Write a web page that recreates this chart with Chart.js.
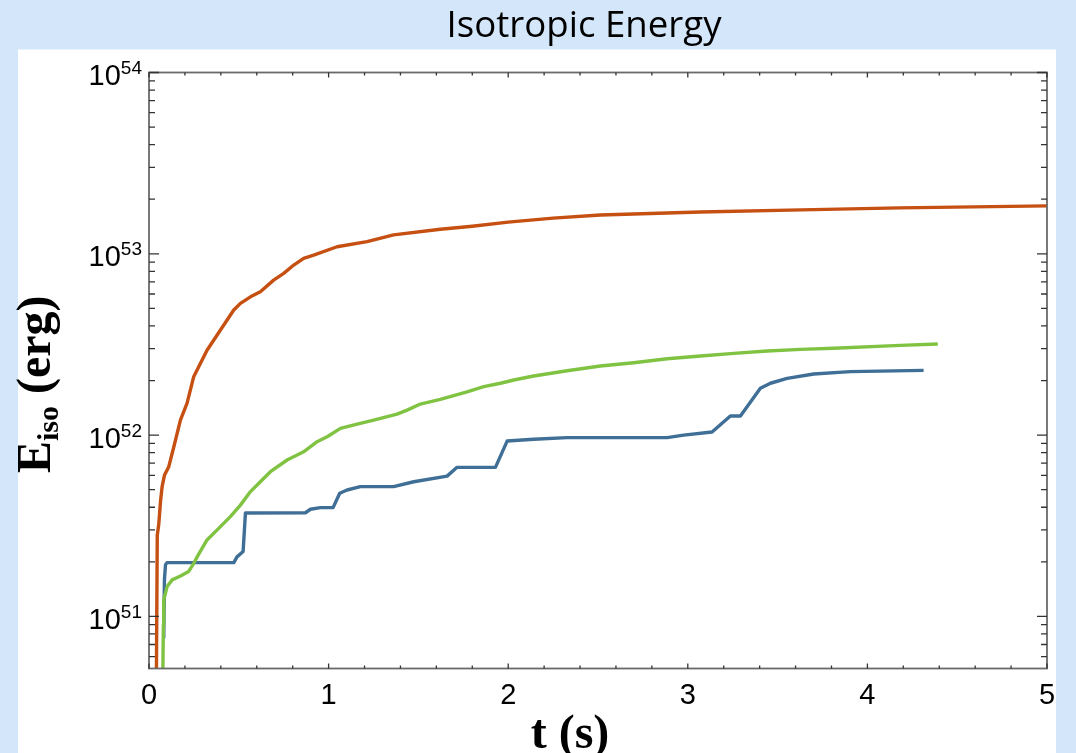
<!DOCTYPE html>
<html>
<head>
<meta charset="utf-8">
<script src="https://cdn.jsdelivr.net/npm/chart.js@4/dist/chart.umd.min.js"></script>
<style>
  html, body { margin: 0; padding: 0; background: #d4e7fa; }
  #wrap { width: 1076px; height: 753px; position: relative; }
</style>
</head>
<body>
<div id="wrap"><canvas id="c" width="1076" height="753"></canvas></div>
<script>
// ---- Data (t in s, E_iso in erg) ----
const chartTitle = "Isotropic Energy";
const xTickValues = [0, 1, 2, 3, 4, 5];
const yTickExponents = [51, 52, 53, 54];

const tOrange = [0.040, 0.046, 0.054, 0.064, 0.073, 0.086, 0.110, 0.138, 0.175, 0.212, 0.249, 0.323, 0.398, 0.472, 0.509, 0.565, 0.620, 0.694, 0.750, 0.806, 0.861, 0.917, 1.047, 1.214, 1.362, 1.622, 1.800, 2.000, 2.250, 2.513, 3.070, 3.630, 4.180, 5.000];
const eOrange = [3.0e50, 2.8e51, 3.2e51, 4.3e51, 5.2e51, 6.0e51, 6.7e51, 8.6e51, 1.21e52, 1.50e52, 2.10e52, 2.94e52, 3.80e52, 4.90e52, 5.33e52, 5.79e52, 6.18e52, 7.16e52, 7.80e52, 8.67e52, 9.44e52, 9.84e52, 1.094e53, 1.167e53, 1.271e53, 1.365e53, 1.42e53, 1.496e53, 1.574e53, 1.637e53, 1.702e53, 1.746e53, 1.791e53, 1.837e53];

const tGreen = [0.075, 0.080, 0.082, 0.101, 0.129, 0.175, 0.221, 0.249, 0.268, 0.323, 0.388, 0.453, 0.509, 0.565, 0.620, 0.676, 0.769, 0.861, 0.936, 0.992, 1.066, 1.159, 1.251, 1.381, 1.437, 1.511, 1.622, 1.771, 1.864, 1.957, 2.031, 2.142, 2.328, 2.513, 2.699, 2.885, 3.071, 3.256, 3.442, 3.628, 3.812, 4.184, 4.392];
const eGreen = [3.0e50, 9.0e50, 1.23e51, 1.46e51, 1.59e51, 1.67e51, 1.77e51, 1.96e51, 2.13e51, 2.64e51, 3.06e51, 3.55e51, 4.11e51, 4.88e51, 5.53e51, 6.28e51, 7.29e51, 8.09e51, 9.20e51, 9.79e51, 1.089e52, 1.151e52, 1.211e52, 1.306e52, 1.374e52, 1.483e52, 1.574e52, 1.734e52, 1.849e52, 1.932e52, 2.014e52, 2.118e52, 2.265e52, 2.404e52, 2.506e52, 2.636e52, 2.729e52, 2.825e52, 2.911e52, 2.972e52, 3.013e52, 3.126e52, 3.18e52];

const tBlue = [0.082, 0.086, 0.092, 0.100, 0.472, 0.490, 0.524, 0.537, 0.871, 0.899, 0.954, 1.025, 1.062, 1.103, 1.177, 1.362, 1.474, 1.660, 1.715, 1.929, 1.994, 2.142, 2.328, 2.885, 2.977, 3.135, 3.237, 3.293, 3.404, 3.460, 3.553, 3.701, 3.905, 4.313];
const eBlue = [7.57e50, 1.6e51, 1.93e51, 1.98e51, 1.98e51, 2.13e51, 2.28e51, 3.72e51, 3.73e51, 3.90e51, 3.98e51, 3.98e51, 4.78e51, 4.98e51, 5.20e51, 5.20e51, 5.53e51, 5.94e51, 6.64e51, 6.64e51, 9.27e51, 9.48e51, 9.68e51, 9.68e51, 1.0e52, 1.04e52, 1.274e52, 1.274e52, 1.811e52, 1.932e52, 2.056e52, 2.173e52, 2.239e52, 2.275e52];

const xMin = 0, xMax = 5;
const yMin = 5.16e50, yMax = 1e54;

const pts = (ts, es) => ts.map((t, i) => ({ x: t, y: es[i] }));

const decor = {
  id: 'decor',
  beforeDraw(chart) {
    const ctx = chart.ctx;
    ctx.save();
    ctx.fillStyle = '#d4e7fa';
    ctx.fillRect(0, 0, chart.width, chart.height);
    ctx.fillStyle = '#ffffff';
    ctx.fillRect(18, 49.5, 1038, 703.5);
    // title
    ctx.fillStyle = '#000000';
    ctx.font = '37px "Open Sans"';
    ctx.textBaseline = 'alphabetic';
    ctx.textAlign = 'left';
    const w = ctx.measureText(chartTitle).width;
    const target = 275;
    const sx = target / w;
    ctx.translate(584 - target / 2, 37);
    ctx.scale(sx, 1);
    ctx.fillText(chartTitle, 0, 0);
    ctx.restore();
  },
  afterDraw(chart) {
    const ctx = chart.ctx;
    const a = chart.chartArea;
    const xs = chart.scales.x, ys = chart.scales.y;
    ctx.save();
    // frame
    ctx.strokeStyle = '#6a6a6a';
    ctx.lineWidth = 1.8;
    ctx.strokeRect(a.left, a.top, a.right - a.left, a.bottom - a.top);
    // x ticks
    ctx.strokeStyle = '#333333';
    ctx.lineWidth = 1.3;
    for (let k = 0; k <= 25; k++) {
      const v = xMin + k * 0.2;
      const px = xs.getPixelForValue(v);
      const major = (k % 5 === 0);
      const len = major ? 5 : 3;
      ctx.beginPath();
      ctx.moveTo(px, a.bottom); ctx.lineTo(px, a.bottom - len);
      ctx.moveTo(px, a.top); ctx.lineTo(px, a.top + len);
      ctx.stroke();
    }
    // y ticks
    for (let e = 50; e <= 54; e++) {
      for (let m = 1; m <= 9; m++) {
        const v = m * Math.pow(10, e);
        if (v < yMin * 0.999 || v > yMax * 1.001) continue;
        const py = ys.getPixelForValue(v);
        const len = (m === 1) ? 10 : 6;
        ctx.beginPath();
        ctx.moveTo(a.left, py); ctx.lineTo(a.left + len, py);
        ctx.moveTo(a.right, py); ctx.lineTo(a.right - len, py);
        ctx.stroke();
      }
    }
    // x labels
    ctx.fillStyle = '#000000';
    ctx.font = '29px "Liberation Sans"';
    ctx.textAlign = 'center';
    ctx.textBaseline = 'alphabetic';
    xTickValues.forEach(v => {
      ctx.fillText(String(v), xs.getPixelForValue(v), a.bottom + 35);
    });
    // y labels with superscript exponents
    yTickExponents.forEach(ex => {
      const py = ys.getPixelForValue(Math.pow(10, ex));
      const rightEdge = a.left - 7;
      ctx.textAlign = 'right';
      ctx.font = '19px "Liberation Sans"';
      const expStr = String(ex);
      const ew = ctx.measureText(expStr).width;
      ctx.fillText(expStr, rightEdge, py + 1.5);
      ctx.font = '29px "Liberation Sans"';
      ctx.fillText('10', rightEdge - ew, py + 12.5);
    });
    // x axis title
    ctx.textAlign = 'center';
    ctx.font = 'bold 48px "Liberation Serif"';
    ctx.fillText('t (s)', 570, 748);
    // y axis title (rotated)
    ctx.save();
    ctx.translate(50, 473);
    ctx.rotate(-Math.PI / 2);
    ctx.textAlign = 'left';
    ctx.font = 'bold 48px "Liberation Serif"';
    ctx.fillText('E', 0, 0);
    let x = ctx.measureText('E').width;
    ctx.font = 'bold 30px "Liberation Serif"';
    ctx.fillText('iso', x, 8);
    x += ctx.measureText('iso').width;
    ctx.font = 'bold 48px "Liberation Serif"';
    ctx.fillText(' (erg)', x, 0);
    ctx.restore();
    ctx.restore();
  }
};

new Chart(document.getElementById('c'), {
  type: 'line',
  data: {
    datasets: [
      { label: 'orange', data: pts(tOrange, eOrange), borderColor: '#c64f12' },
      { label: 'green', data: pts(tGreen, eGreen), borderColor: '#80c342' },
      { label: 'blue', data: pts(tBlue, eBlue), borderColor: '#3f6f96' }
    ]
  },
  options: {
    responsive: false,
    devicePixelRatio: 1,
    animation: false,
    parsing: true,
    layout: { padding: { left: 149, right: 29, top: 72.5, bottom: 84.5 } },
    elements: {
      point: { radius: 0, hoverRadius: 0 },
      line: { borderWidth: 3.4, tension: 0, borderJoinStyle: 'round', borderCapStyle: 'butt', fill: false }
    },
    plugins: { legend: { display: false }, tooltip: { enabled: false }, title: { display: false } },
    scales: {
      x: { type: 'linear', min: xMin, max: xMax, display: false },
      y: { type: 'logarithmic', min: yMin, max: yMax, display: false }
    }
  },
  plugins: [decor]
});
</script>
</body>
</html>
